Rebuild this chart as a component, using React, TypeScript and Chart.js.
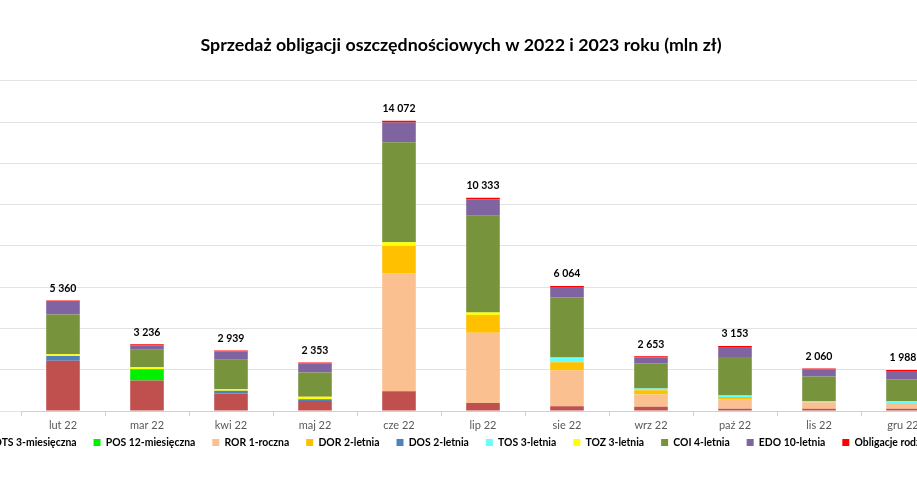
import React, { useEffect, useRef } from 'react';
import { Chart, registerables } from 'chart.js';

Chart.register(...registerables);

const TITLE = 'Sprzedaż obligacji oszczędnościowych w 2022 i 2023 roku (mln zł)';

const months = ['lut 22', 'mar 22', 'kwi 22', 'maj 22', 'cze 22', 'lip 22', 'sie 22', 'wrz 22', 'paź 22', 'lis 22', 'gru 22'];

const totals = [5360, 3236, 2939, 2353, 14072, 10333, 6064, 2653, 3153, 2060, 1988];

const OTS = [2440, 1480, 850, 480, 955, 390, 230, 205, 110, 110, 110];
const POS = [0, 530, 0, 0, 0, 0, 0, 0, 0, 0, 0];
const ROR = [0, 0, 0, 0, 5710, 3405, 1735, 600, 455, 310, 275];
const DOR = [0, 0, 0, 0, 1330, 860, 400, 205, 110, 0, 0];
const DOS = [230, 30, 130, 95, 0, 0, 0, 0, 0, 0, 0];
const TOS = [0, 0, 0, 0, 0, 0, 225, 80, 80, 60, 95];
const TOZ = [85, 80, 85, 110, 190, 125, 0, 0, 0, 0, 0];
const COI = [1920, 850, 1420, 1180, 4840, 4690, 2920, 1220, 1860, 1195, 1055];
const EDO = [620, 216, 410, 440, 965, 785, 505, 295, 490, 337, 405];
const ROD = [65, 50, 44, 48, 82, 78, 49, 48, 48, 48, 48];

const seriesNames = ['OTS 3-miesięczna', 'POS 12-miesięczna', 'ROR 1-roczna', 'DOR 2-letnia', 'DOS 2-letnia', 'TOS 3-letnia', 'TOZ 3-letnia', 'COI 4-letnia', 'EDO 10-letnia', 'Obligacje rodzinne'];
const seriesValues = [OTS, POS, ROR, DOR, DOS, TOS, TOZ, COI, EDO, ROD];
const seriesColors = ['#C0504D', '#00F000', '#FAC090', '#FFC000', '#4F81BD', '#66FFFF', '#FFFF00', '#77933C', '#8064A2', '#FF0000'];

const FONT = 'Lato, "Open Sans", sans-serif';

function fmt(n: number): string {
  return String(n).replace(/\B(?=(\d{3})+(?!\d))/g, ' ');
}

const totalsPlugin = {
  id: 'totals',
  afterDatasetsDraw(chart: any) {
    const { ctx, scales } = chart;
    ctx.save();
    ctx.font = `bold 10.5px ${FONT}`;
    ctx.fillStyle = '#000';
    ctx.textAlign = 'center';
    ctx.textBaseline = 'middle';
    totals.forEach((t, i) => {
      const x = scales.x.getPixelForValue(i);
      const y = scales.y.getPixelForValue(t) - 12;
      ctx.fillText(fmt(t), x, y);
    });
    ctx.restore();
  },
};

const legendShift = {
  id: 'legendShift',
  afterLayout(chart: any) {
    const lg = chart.legend;
    if (lg) {
      lg.top -= 15;
      lg.bottom -= 15;
    }
  },
};

export default function App() {
  const ref = useRef<HTMLCanvasElement>(null);
  useEffect(() => {
    if (!ref.current) return;
    const chart = new Chart(ref.current, {
      type: 'bar',
      data: {
        labels: months,
        datasets: seriesNames.map((name, k) => ({
          label: name,
          data: seriesValues[k],
          backgroundColor: seriesColors[k],
          borderWidth: 0,
          categoryPercentage: 1,
          barPercentage: 0.4,
          stack: 's',
        })),
      },
      options: {
        responsive: false,
        animation: false,
        layout: { padding: { left: 0, right: 0, top: 0, bottom: 9.4 } },
        plugins: {
          title: {
            display: true,
            text: TITLE,
            color: '#000',
            font: { family: FONT, size: 17.8, weight: 'bold' },
            padding: { top: 34.3, bottom: 25.3 },
          },
          legend: {
            position: 'bottom',
            labels: {
              boxWidth: 7,
              boxHeight: 7,
              padding: 17,
              color: '#000',
              font: { family: FONT, size: 10.4, weight: 'bold' },
            },
          },
          tooltip: { enabled: false },
        },
        scales: {
          x: {
            stacked: true,
            grid: { drawOnChartArea: false, drawTicks: true, tickLength: 5, color: '#d0d0d0', offset: true },
            border: { color: '#d0d0d0' },
            ticks: { color: '#595959', font: { family: FONT, size: 11 }, padding: 3 },
          },
          y: {
            stacked: true,
            min: 0,
            max: 16000,
            ticks: { display: false, stepSize: 2000 },
            grid: { color: '#e3e3e3', tickLength: 94, drawTicks: true },
            border: { display: false },
          },
          yRight: {
            type: 'linear',
            position: 'right',
            min: 0,
            max: 16000,
            ticks: { display: false, stepSize: 2000 },
            grid: { drawOnChartArea: false, color: 'rgba(0,0,0,0)', tickLength: 50, drawTicks: true },
            border: { display: false },
          },
        },
      },
      plugins: [totalsPlugin, legendShift],
    });
    return () => chart.destroy();
  }, []);

  return (
    <div style={{ position: 'fixed', left: 0, top: 0, width: 917, height: 482, overflow: 'hidden', background: '#fff' }}>
      <div style={{ position: 'absolute', left: -73, top: 0, width: 1068, height: 482 }}>
        <canvas ref={ref} width={1068} height={482} style={{ width: 1068, height: 482, display: 'block' }} />
      </div>
    </div>
  );
}
